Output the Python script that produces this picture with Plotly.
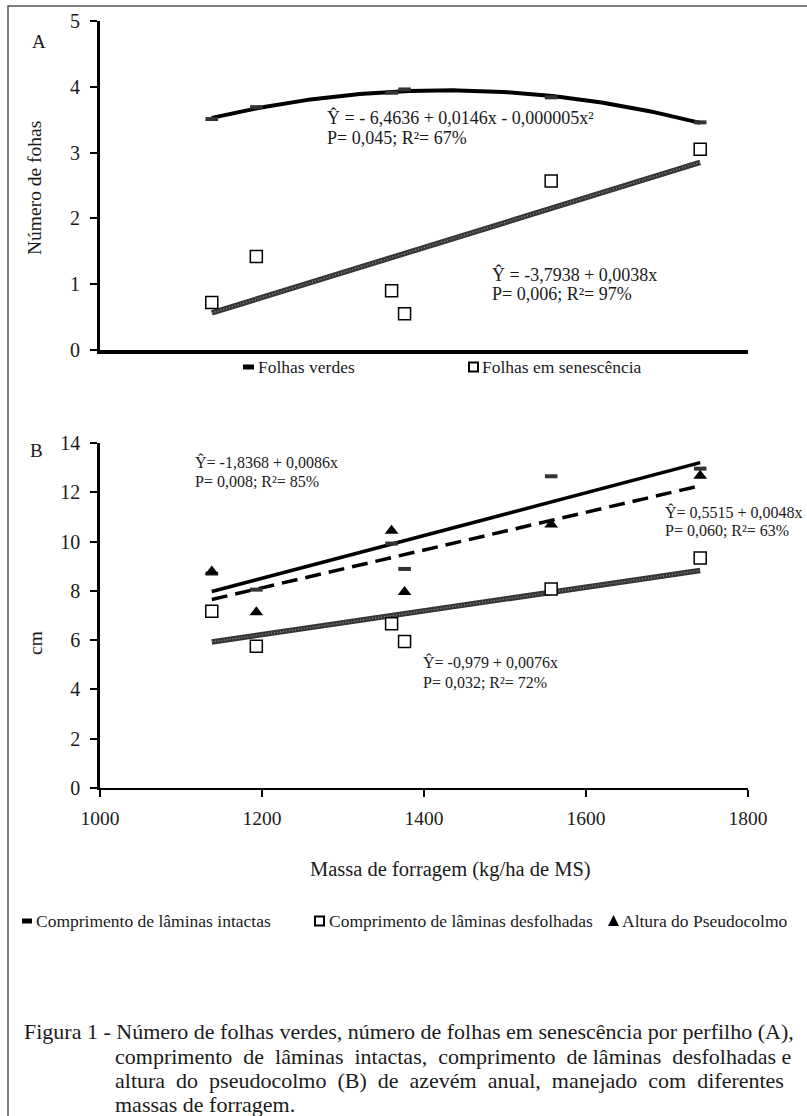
import numpy as np
import plotly.graph_objects as go

# ---------------- data ----------------
massa = [1138, 1193, 1360, 1376, 1557, 1741]
folhas_verdes = [3.51, 3.69, 3.91, 3.96, 3.84, 3.46]
folhas_senescencia = [0.72, 1.42, 0.90, 0.55, 2.57, 3.05]
laminas_intactas = [8.70, 8.05, 9.92, 8.89, 12.65, 12.96]
laminas_desfolhadas = [7.17, 5.75, 6.67, 5.95, 8.08, 9.33]
altura_pseudocolmo = [8.79, 7.13, 10.44, 7.95, 10.69, 12.67]

x_ticks = [1000, 1200, 1400, 1600, 1800]

W, H = 807, 1116
SERIF = "Liberation Serif, Times New Roman, serif"
NB = "\u00a0"


def px(x):
    return x / W


def py(y):
    return 1 - y / H


def trend(xs, ys, deg):
    coef = np.polyfit(xs, ys, deg)
    xx = np.linspace(min(xs), max(xs), 120)
    return xx, np.polyval(coef, xx)


fig = go.Figure()

GREY_BASE = "#363636"
GREY_TEX = "#8c8c8c"


def textured_line(xs, ys, deg, xa, ya):
    xx, yy = trend(xs, ys, deg)
    fig.add_trace(go.Scatter(x=xx, y=yy, mode="lines", xaxis=xa, yaxis=ya,
                             line=dict(color=GREY_BASE, width=5.5),
                             showlegend=False, hoverinfo="skip"))
    fig.add_trace(go.Scatter(x=xx, y=yy, mode="lines", xaxis=xa, yaxis=ya,
                             line=dict(color=GREY_TEX, width=1.4, dash="1px,2px"),
                             showlegend=False, hoverinfo="skip"))


# ---------- Panel A ----------
xx, yy = trend(massa, folhas_verdes, 2)
fig.add_trace(go.Scatter(x=xx, y=yy, mode="lines", xaxis="x", yaxis="y",
                         line=dict(color="black", width=4),
                         showlegend=False, hoverinfo="skip"))
fig.add_trace(go.Scatter(x=massa, y=folhas_verdes, mode="markers", name="Folhas verdes",
                         xaxis="x", yaxis="y", showlegend=False,
                         marker=dict(symbol="line-ew", size=9,
                                     line=dict(color="#333333", width=4))))
textured_line(massa, folhas_senescencia, 1, "x", "y")
fig.add_trace(go.Scatter(x=massa, y=folhas_senescencia, mode="markers",
                         name="Folhas em senescência", xaxis="x", yaxis="y",
                         showlegend=False,
                         marker=dict(symbol="square", size=12, color="white",
                                     line=dict(color="black", width=1.5))))

# ---------- Panel B ----------
xx, yy = trend(massa, laminas_intactas, 1)
fig.add_trace(go.Scatter(x=xx, y=yy, mode="lines", xaxis="x2", yaxis="y2",
                         line=dict(color="black", width=3.5),
                         showlegend=False, hoverinfo="skip"))
xx, yy = trend(massa, altura_pseudocolmo, 1)
fig.add_trace(go.Scatter(x=xx, y=yy, mode="lines", xaxis="x2", yaxis="y2",
                         line=dict(color="black", width=3.5, dash="16px,8px"),
                         showlegend=False, hoverinfo="skip"))
textured_line(massa, laminas_desfolhadas, 1, "x2", "y2")
fig.add_trace(go.Scatter(x=massa, y=laminas_intactas, mode="markers",
                         name="Comprimento de lâminas intactas", xaxis="x2", yaxis="y2",
                         showlegend=False,
                         marker=dict(symbol="line-ew", size=9,
                                     line=dict(color="#333333", width=4))))
fig.add_trace(go.Scatter(x=massa, y=laminas_desfolhadas, mode="markers",
                         name="Comprimento de lâminas desfolhadas", xaxis="x2", yaxis="y2",
                         showlegend=False,
                         marker=dict(symbol="square", size=12, color="white",
                                     line=dict(color="black", width=1.5))))
fig.add_trace(go.Scatter(x=massa, y=altura_pseudocolmo, mode="markers",
                         name="Altura do Pseudocolmo", xaxis="x2", yaxis="y2",
                         showlegend=False,
                         marker=dict(symbol="triangle-up", size=12, color="black",
                                     line=dict(color="black", width=0))))

ytickfont = dict(family=SERIF, size=20, color="#1a1a1a")

fig.update_layout(
    width=W, height=H,
    margin=dict(l=0, r=0, t=0, b=0, pad=0, autoexpand=False),
    paper_bgcolor="white", plot_bgcolor="white",
    showlegend=False,
    font=dict(family=SERIF, color="#1a1a1a"),
    xaxis=dict(domain=[px(100), px(748)], range=[1000, 1800], anchor="y",
               automargin=False,
               showline=True, linecolor="black", linewidth=4,
               ticks="", showticklabels=False, showgrid=False, zeroline=False),
    yaxis=dict(domain=[py(350), py(21)], range=[0, 5], dtick=1, anchor="x",
               automargin=False,
               showline=True, linecolor="black", linewidth=3,
               ticks="outside", ticklen=7, tickwidth=2, tickcolor="black",
               tickfont=ytickfont, ticklabelstandoff=6,
               showgrid=False, zeroline=False),
    xaxis2=dict(domain=[px(100), px(748)], range=[1000, 1800], anchor="y2",
                automargin=False,
                tickvals=x_ticks, ticktext=[str(v) for v in x_ticks],
                showline=True, linecolor="black", linewidth=2,
                ticks="outside", ticklen=7, tickwidth=2, tickcolor="black",
                tickfont=dict(family=SERIF, size=19.5, color="#1a1a1a"),
                ticklabelstandoff=5,
                showgrid=False, zeroline=False),
    yaxis2=dict(domain=[py(788), py(443)], range=[0, 14], dtick=2, anchor="x2",
                automargin=False,
                showline=True, linecolor="black", linewidth=2.5,
                ticks="outside", ticklen=7, tickwidth=2, tickcolor="black",
                tickfont=ytickfont, ticklabelstandoff=6,
                showgrid=False, zeroline=False),
)

ann = []


def text(x, y, s, size, xanchor="left", **kw):
    ann.append(dict(x=px(x), y=py(y), xref="paper", yref="paper", text=s,
                    showarrow=False, xanchor=xanchor, yanchor="middle",
                    font=dict(family=SERIF, size=size, color="#1a1a1a"), **kw))


# panel letters
text(39, 42, "A", 19, xanchor="center")
text(36, 450, "B", 19, xanchor="center")

# equations panel A
text(325, 117, "Ŷ = - 6,4636 + 0,0146x - 0,000005x²", 18)
text(325, 138, "P= 0,045; R²= 67%", 18)
text(490, 275, "Ŷ = -3,7938 + 0,0038x", 18)
text(490, 294, "P= 0,006; R²= 97%", 18)

# equations panel B
text(193, 462, "Ŷ= -1,8368 + 0,0086x", 16)
text(193, 481, "P= 0,008; R²= 85%", 16)
text(663, 512, "Ŷ= 0,5515 + 0,0048x", 16)
text(663, 530, "P= 0,060; R²= 63%", 16)
text(421, 662, "Ŷ= -0,979 + 0,0076x", 16)
text(421, 682, "P= 0,032; R²= 72%", 16)

# axis titles
text(34, 188, "Número de fohas", 19.5, xanchor="center", textangle=-90)
text(35, 643, "cm", 19.5, xanchor="center", textangle=-90)
text(450, 869, "Massa de forragem (kg/ha de MS)", 20.5, xanchor="center")

# legends (text)
text(256, 367, "Folhas verdes", 17.5)
text(480, 367, "Folhas em senescência", 17.5)
text(34, 921, "Comprimento de lâminas intactas", 17.5)
text(327, 921, "Comprimento de lâminas desfolhadas", 17.5)
text(620, 921, "Altura do Pseudocolmo", 17.5)

# caption (justified with extra non-breaking spaces)
cap2 = ("comprimento " + NB + "de " + NB + "lâminas " + NB + "intactas, " + NB
        + "comprimento " + NB + "de lâminas " + NB + "desfolhadas e")
cap3 = ("altura " + NB + "do " + NB + "pseudocolmo " + NB + "(B) " + NB + "de " + NB
        + "azevém " + NB + "anual, " + NB + "manejado " + NB + "com " + NB + "diferentes")
text(22, 1031, "Figura 1 - Número de folhas verdes, número de folhas em senescência por perfilho (A),", 22)
text(113, 1056, cap2, 22)
text(113, 1080, cap3, 22)
text(113, 1104, "massas de forragem.", 22)

fig.update_layout(annotations=ann)

shapes = []
# outer frame
shapes.append(dict(type="rect", xref="paper", yref="paper",
                   x0=px(8), x1=1.02, y0=-0.02, y1=py(6),
                   line=dict(color="#555555", width=1.5), fillcolor="rgba(0,0,0,0)"))


def rect(x0, y0, x1, y1, fill, lw=0, lc="black"):
    shapes.append(dict(type="rect", xref="paper", yref="paper",
                       x0=px(x0), x1=px(x1), y0=py(y1), y1=py(y0),
                       line=dict(color=lc, width=lw), fillcolor=fill))


# legend symbols
rect(243, 364.5, 254, 369.5, "black")
rect(469, 362.5, 478, 371.5, "white", lw=2)
rect(22, 918.5, 32, 923.5, "black")
rect(315, 916.5, 324, 925.5, "white", lw=2)
shapes.append(dict(type="path", xref="paper", yref="paper",
                   path=f"M {px(608)} {py(926)} L {px(619)} {py(926)} L {px(613.5)} {py(915)} Z",
                   fillcolor="black", line=dict(color="black", width=0)))

fig.update_layout(shapes=shapes)

fig.write_html("out.html",
               config={"displayModeBar": False},
               post_script="document.body.style.margin='0px';document.body.style.overflow='hidden';")
